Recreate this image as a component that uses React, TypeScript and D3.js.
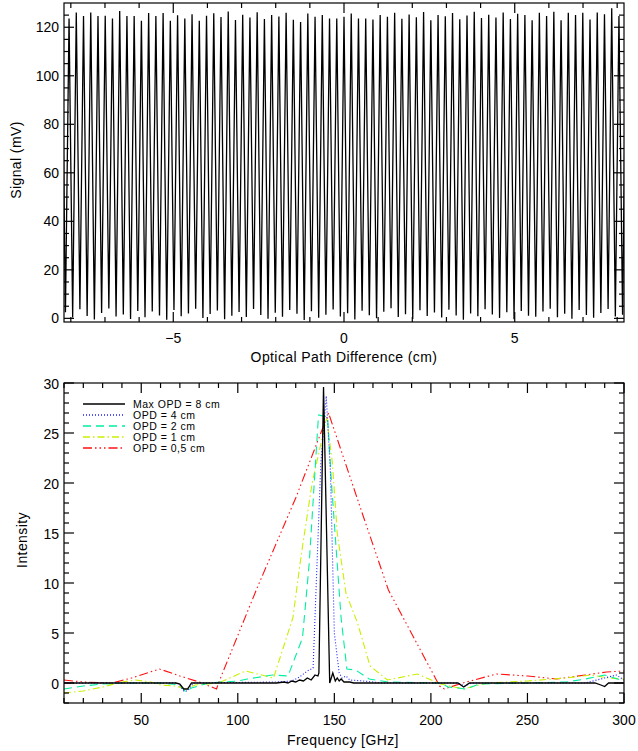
import React from "react";
import * as d3 from "d3";

// ---------- Top panel data (interferogram) ----------
const fringePeriodCm = 0.2119; // OPD spacing between fringe maxima
const firstFringeIndex = -39;
const peakHeights = [
  124.0,
  123.6, 126.1, 124.6, 126.1, 124.6, 124.7, 123.6, 126.7, 124.6, 124.6,
  122.7, 125.9, 124.6, 125.9, 122.7, 124.9, 123.6, 125.4, 122.7, 124.7,
  125.8, 124.2, 126.5, 123.0, 125.2, 124.0, 126.2, 123.4, 125.0, 124.4, 126.0, 123.1,
  122.2, 125.7, 124.3, 125.0, 123.6, 123.6, 124.3, 125.7, 123.6, 123.6, 123.2, 125.0, 124.3,
  126.0, 123.5, 125.3, 124.1, 126.3, 122.9, 125.1, 124.5, 125.9, 123.3, 124.8, 126.4, 123.8, 125.2, 124.0, 126.1, 123.4, 125.6,
  125.0, 122.9, 126.0, 124.6, 126.4, 122.9, 126.0, 125.0, 126.0, 123.2, 126.1, 125.4, 127.8, 124.6,
  124.0,
];
const troughValues = [
  2.5, 0.4, 3.8, 1.0, -0.5, 2.2, 4.1, 0.8, 1.6, -0.3,
  3.0, 0.5, 2.8, 1.2, -0.6, 3.5, 0.9, 2.0, 4.0, 0.2,
  1.8, 3.2, -0.4, 1.1, 2.6, 0.6, 3.9, 1.4, -0.2, 2.3,
  0.7, 3.4, 1.9, -0.7, 2.9, 0.3, 1.5, 3.7, 0.8, 2.1,
  -0.5, 3.1, 1.3, 0.1, 2.7, 4.2, 0.6, 1.7, -0.3, 3.3,
  1.0, 2.4, 0.4, 3.6, 1.2, -0.6, 2.0, 0.9, 3.8, 1.6,
  0.2, 2.5, -0.4, 3.0, 1.1, 0.7, 2.8, 4.0, 0.5, 1.9,
  -0.2, 3.4, 1.4, 0.3, 2.2, 3.9, 0.8, 1.5,
];
const topXMajor = [-5, 0, 5];
const topYMajor = [0, 20, 40, 60, 80, 100, 120];

// ---------- Bottom panel data (spectra) ----------
type P = [number, number];
const spec8cm: P[] = [
  [10, 0], [40, 0], [68, 0], [70, -0.1], [72, -0.6], [74, -0.6], [76, 0], [100, 0], [120, 0],
  [124, 0.1], [126, 0], [128, 0.2], [130, 0.1], [132, 0.3], [134, 0.2], [136, 0.5], [138, 0.3],
  [140, 0.8], [141.5, 0.7], [142, 1.0], [144.4, 29.6], [147.6, 0], [149.2, 1.0], [150.5, 0.2],
  [151.5, 0.5], [152.5, 0.2], [153.5, 0.4], [155, 0.1], [158, 0.1], [160, 0], [214, 0],
  [217, -0.4], [220, 0], [285, 0], [288, -0.2], [290, -0.35], [292, 0], [300, 0],
];
const spec4cm: P[] = [
  [10, 0], [60, 0], [69, 0], [72, -0.8], [74, -0.8], [77, 0], [120, 0.1], [128, 0.2],
  [132, 0.6], [136, 1.2], [139, 1.5], [143, 22], [145.8, 28.7], [148, 21], [150, 5],
  [152.5, 1.0], [154, 0.5], [156, 0.7], [158, 0.3], [165, 0.2], [175, 0], [214, 0],
  [217.5, -0.3], [221, 0], [280, 0], [290, 0.5], [296, 0.8], [300, 0.3],
];
const spec2cm: P[] = [
  [10, -0.6], [20, -0.3], [30, -0.1], [40, 0], [60, 0], [70, -0.2], [73, -0.9], [76, -0.5],
  [85, 0], [100, 0.2], [105, 0.4], [118, 0.8], [126, 0.7], [133.5, 4.5], [137, 12],
  [141.8, 26.8], [146.5, 26.6], [148.5, 20], [153.5, 6.5], [156.5, 1.4], [161, 1.3],
  [168, 0.4], [178, 0.1], [205, 0], [209, -0.4], [214, -0.5], [218, -0.6], [225, -0.1],
  [250, 0], [270, 0.1], [280, 0.4], [290, 0.8], [300, 0.2],
];
const spec1cm: P[] = [
  [10, -1.0], [20, -0.8], [30, -0.4], [40, 0.1], [47, 0.3], [55, 0.1], [60, -0.2], [68, -0.3],
  [73, -0.6], [78, -0.2], [90, 0], [104, 1.2], [118.5, 0.5], [128.5, 6.5], [133, 13],
  [138.5, 20], [146, 26.5], [149, 22], [151.5, 15], [156, 9], [162, 6], [168.5, 1.7],
  [177.5, 0.3], [193, 0.9], [205, -0.1], [212, -0.4], [217, -0.6], [229, 0], [250, 0.2],
  [270, 0.5], [283, 0.8], [292, 0.5], [300, 0.4],
];
const spec05cm: P[] = [
  [10, 0.3], [20, 0.1], [35, 0], [45, 0.5], [59.5, 1.4], [70, 0.7], [80, 0.1], [89, -0.6],
  [90, 0], [110, 9.5], [130, 18.5], [147, 27], [163, 17.8], [178, 9.3], [204.5, -0.3],
  [207, -0.6], [216.5, 0], [234, 0.9], [250, 0.7], [265, 0.4], [280, 0.8], [291, 1.1], [300, 1.2],
];
const legendLabels = ["Max OPD = 8 cm", "OPD = 4 cm", "OPD = 2 cm", "OPD = 1 cm", "OPD = 0,5 cm"];
const botXMajor = [50, 100, 150, 200, 250, 300];
const botYMajor = [0, 5, 10, 15, 20, 25, 30];

const FONT = "'Liberation Sans', Arial, sans-serif";

const seriesStyles = [
  { color: "#000000", dash: "", width: 1.3 },
  { color: "#2020ff", dash: "1,2", width: 1.1 },
  { color: "#00eea0", dash: "8,5", width: 1.1 },
  { color: "#c8f000", dash: "7,3,1.5,3", width: 1.1 },
  { color: "#ff1010", dash: "9,3,1.5,3,1.5,3,1.5,3", width: 1.1 },
];

function range(a: number, b: number, s: number) {
  const out: number[] = [];
  for (let v = a; v <= b + 1e-9; v += s) out.push(+v.toFixed(6));
  return out;
}

const fmtMinus = (v: number) => (v < 0 ? "\u2212" + Math.abs(v) : String(v));

export default function App() {
  // Top panel
  const tL = 64, tR = 624, tT = 3, tB = 322;
  const tx = d3.scaleLinear().domain([-8.2, 8.2]).range([tL, tR]);
  const ty = d3.scaleLinear().domain([-1.5, 130]).range([tB, tT]);

  const ifg: P[] = [];
  for (let i = 0; i < peakHeights.length; i++) {
    const k = firstFringeIndex + i;
    ifg.push([k * fringePeriodCm, peakHeights[i]]);
    if (i < troughValues.length && i < peakHeights.length - 1) {
      ifg.push([(k + 0.5) * fringePeriodCm, troughValues[i]]);
    }
  }
  const topLine = d3.line<P>().x((d) => tx(d[0])).y((d) => ty(d[1]))(ifg) || "";

  // Bottom panel
  const bL = 64, bR = 624, bT = 383, bB = 703;
  const bx = d3.scaleLinear().domain([10, 300]).range([bL, bR]);
  const by = d3.scaleLinear().domain([-2, 30]).range([bB, bT]);
  const spectra = [spec8cm, spec4cm, spec2cm, spec1cm, spec05cm];
  const lineGen = d3.line<P>().x((d) => bx(d[0])).y((d) => by(d[1]));

  const major = 10, minor = 5;
  const axisStroke = { stroke: "#000", strokeWidth: 1.2 };

  const topXMinor = range(-8, 8, 1).filter((v) => !topXMajor.includes(v));
  const topYMinor = range(0, 125, 5).filter((v) => !topYMajor.includes(v));
  const botXMinor = range(10, 300, 10).filter((v) => !botXMajor.includes(v));
  const botYMinor = range(-2, 30, 1).filter((v) => !botYMajor.includes(v));

  const legendY = [404, 415, 426, 437, 448];

  return (
    <svg
      width={638}
      height={751}
      style={{ position: "absolute", left: 0, top: 0, background: "#fff" }}
      fontFamily={FONT}
    >
      <rect x={0} y={0} width={638} height={751} fill="#fff" />
      <defs>
        <clipPath id="clipTop">
          <rect x={tL} y={tT} width={tR - tL} height={tB - tT} />
        </clipPath>
        <clipPath id="clipBot">
          <rect x={bL} y={bT} width={bR - bL} height={bB - bT} />
        </clipPath>
      </defs>

      {/* ---------- Top panel ---------- */}
      <path d={topLine} fill="none" stroke="#000" strokeWidth={1.3} clipPath="url(#clipTop)" />
      <rect x={tL} y={tT} width={tR - tL} height={tB - tT} fill="none" {...axisStroke} />
      {topXMajor.map((v) => (
        <g key={"txM" + v}>
          <line x1={tx(v)} x2={tx(v)} y1={tB} y2={tB - major} {...axisStroke} />
          <line x1={tx(v)} x2={tx(v)} y1={tT} y2={tT + major} {...axisStroke} />
          <text x={tx(v)} y={343} fontSize={14} textAnchor="middle">{fmtMinus(v)}</text>
        </g>
      ))}
      {topXMinor.map((v) => (
        <g key={"txm" + v}>
          <line x1={tx(v)} x2={tx(v)} y1={tB} y2={tB - minor} {...axisStroke} />
          <line x1={tx(v)} x2={tx(v)} y1={tT} y2={tT + minor} {...axisStroke} />
        </g>
      ))}
      {topYMajor.map((v) => (
        <g key={"tyM" + v}>
          <line x1={tL} x2={tL + major} y1={ty(v)} y2={ty(v)} {...axisStroke} />
          <line x1={tR} x2={tR - major} y1={ty(v)} y2={ty(v)} {...axisStroke} />
          <text x={59} y={ty(v) + 5} fontSize={14} textAnchor="end">{v}</text>
        </g>
      ))}
      {topYMinor.map((v) => (
        <g key={"tym" + v}>
          <line x1={tL} x2={tL + minor} y1={ty(v)} y2={ty(v)} {...axisStroke} />
          <line x1={tR} x2={tR - minor} y1={ty(v)} y2={ty(v)} {...axisStroke} />
        </g>
      ))}
      <text x={344} y={362} fontSize={14} textAnchor="middle" letterSpacing={0.4}>
        Optical Path Difference (cm)
      </text>
      <text
        x={0}
        y={0}
        fontSize={14}
        textAnchor="middle"
        letterSpacing={0.4}
        transform={`translate(21,160) rotate(-90)`}
      >
        Signal (mV)
      </text>

      {/* ---------- Bottom panel ---------- */}
      <g clipPath="url(#clipBot)">
        {spectra
          .map((s, i) => ({ s, i }))
          .reverse()
          .map(({ s, i }) => (
            <path
              key={"sp" + i}
              d={lineGen(s) || ""}
              fill="none"
              stroke={seriesStyles[i].color}
              strokeWidth={seriesStyles[i].width}
              strokeDasharray={seriesStyles[i].dash || undefined}
            />
          ))}
      </g>
      <rect x={bL} y={bT} width={bR - bL} height={bB - bT} fill="none" {...axisStroke} />
      {botXMajor.map((v) => (
        <g key={"bxM" + v}>
          <line x1={bx(v)} x2={bx(v)} y1={bB} y2={bB - major} {...axisStroke} />
          <line x1={bx(v)} x2={bx(v)} y1={bT} y2={bT + major} {...axisStroke} />
          <text x={bx(v)} y={725} fontSize={14} textAnchor="middle">{v}</text>
        </g>
      ))}
      {botXMinor.map((v) => (
        <g key={"bxm" + v}>
          <line x1={bx(v)} x2={bx(v)} y1={bB} y2={bB - minor} {...axisStroke} />
          <line x1={bx(v)} x2={bx(v)} y1={bT} y2={bT + minor} {...axisStroke} />
        </g>
      ))}
      {botYMajor.map((v) => (
        <g key={"byM" + v}>
          <line x1={bL} x2={bL + major} y1={by(v)} y2={by(v)} {...axisStroke} />
          <line x1={bR} x2={bR - major} y1={by(v)} y2={by(v)} {...axisStroke} />
          <text x={59} y={by(v) + 6} fontSize={14} textAnchor="end">{v}</text>
        </g>
      ))}
      {botYMinor.map((v) => (
        <g key={"bym" + v}>
          <line x1={bL} x2={bL + minor} y1={by(v)} y2={by(v)} {...axisStroke} />
          <line x1={bR} x2={bR - minor} y1={by(v)} y2={by(v)} {...axisStroke} />
        </g>
      ))}
      <text x={343} y={745} fontSize={14} textAnchor="middle" letterSpacing={0.4}>
        Frequency [GHz]
      </text>
      <text
        x={0}
        y={0}
        fontSize={14}
        textAnchor="middle"
        letterSpacing={0.4}
        transform={`translate(27,540) rotate(-90)`}
      >
        Intensity
      </text>

      {/* Legend */}
      {legendLabels.map((lab, i) => (
        <g key={"lg" + i}>
          <line
            x1={83}
            x2={125}
            y1={legendY[i]}
            y2={legendY[i]}
            stroke={seriesStyles[i].color}
            strokeWidth={seriesStyles[i].width + 0.2}
            strokeDasharray={seriesStyles[i].dash || undefined}
          />
          <text x={133} y={legendY[i] + 3.5} fontSize={10.5} letterSpacing={0.5}>
            {lab}
          </text>
        </g>
      ))}
    </svg>
  );
}
